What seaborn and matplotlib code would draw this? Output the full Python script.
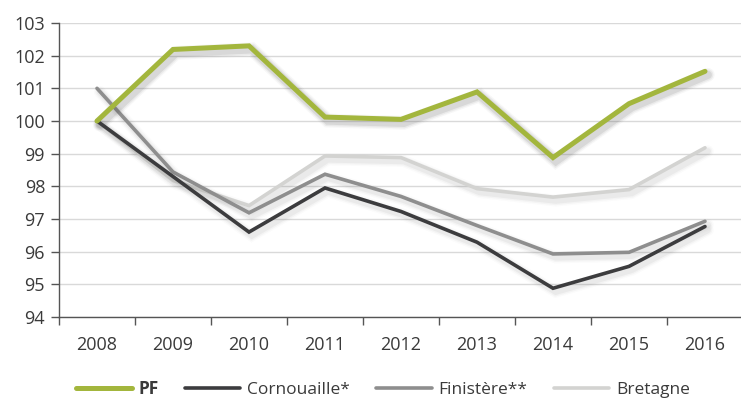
import matplotlib
matplotlib.use("Agg")
import matplotlib.pyplot as plt
import matplotlib.patheffects as pe
from matplotlib.ticker import FixedLocator, NullFormatter
import seaborn as sns
import pandas as pd

years = ["2008", "2009", "2010", "2011", "2012", "2013", "2014", "2015", "2016"]
pf = [100.0, 102.19, 102.30, 100.12, 100.05, 100.89, 98.88, 100.53, 101.52]
cornouaille = [100.0, 98.30, 96.60, 97.95, 97.23, 96.29, 94.88, 95.55, 96.77]
finistere = [101.0, 98.44, 97.19, 98.37, 97.69, 96.80, 95.93, 95.98, 96.93]
bretagne = [100.0, 98.18, 97.41, 98.93, 98.88, 97.93, 97.67, 97.90, 99.18]

sns.set_theme(style="white")
plt.rcParams["font.family"] = ["Open Sans", "DejaVu Sans"]

fig = plt.figure(figsize=(7.41, 3.98), dpi=100)
ax = fig.add_axes([59 / 741, (398 - 317) / 398, 684 / 741, (317 - 23) / 398])

x = list(range(len(years)))
series = [
    ("Bretagne", bretagne, "#d3d3d1", 2.6, 1),
    ("Finistère**", finistere, "#8e8e8e", 2.6, 2),
    ("Cornouaille*", cornouaille, "#3c3c3e", 2.6, 3),
    ("PF", pf, "#a3b63d", 3.6, 4),
]


def soft_shadow(lw, strength):
    # a few widening, faint copies offset down-right give a blurred drop shadow
    effects = []
    for extra, a in ((1.0, 0.10), (3.0, 0.07), (5.0, 0.04)):
        effects.append(pe.SimpleLineShadow(offset=(2.0, -2.5), shadow_color="#444444",
                                           alpha=a * strength, rho=1.0,
                                           linewidth=lw * 1.389 + extra))
    effects.append(pe.Normal())
    return effects


handles = {}
for name, vals, color, lw, z in series:
    df = pd.DataFrame({"x": x, "v": vals})
    sns.lineplot(data=df, x="x", y="v", ax=ax, color=color, linewidth=lw,
                 zorder=z, legend=False)
    line = ax.lines[-1]
    line.set_solid_joinstyle("miter")
    line.set_solid_capstyle("round")
    line.set_path_effects(soft_shadow(lw, 1.0 if name == "PF" else 0.5))
    handles[name] = line

ax.set_xlim(-0.5, len(years) - 0.5)
ax.set_ylim(94, 103)
ax.set_yticks(range(94, 104))
ax.set_xticks(x)
ax.set_xticklabels(years)
ax.xaxis.set_minor_locator(FixedLocator([i - 0.5 for i in range(len(years) + 1)]))
ax.xaxis.set_minor_formatter(NullFormatter())
ax.set_xlabel("")
ax.set_ylabel("")

ax.grid(axis="y", color="#d9d9d9", linewidth=1.0, zorder=0)
ax.set_axisbelow(True)
for side in ("top", "right"):
    ax.spines[side].set_visible(False)
for side in ("left", "bottom"):
    ax.spines[side].set_color("#555555")
    ax.spines[side].set_linewidth(1.0)

ax.tick_params(axis="y", which="major", left=True, length=6, width=1, color="#555555",
               labelsize=13, labelcolor="#3a3a3a", pad=4)
ax.tick_params(axis="x", which="major", bottom=False, length=0, labelsize=13,
               labelcolor="#3a3a3a", pad=14)
ax.tick_params(axis="x", which="minor", bottom=True, length=6, width=1, color="#555555")

order = ["PF", "Cornouaille*", "Finistère**", "Bretagne"]
leg = fig.legend([handles[n] for n in order], order, loc="lower center",
                 bbox_to_anchor=(0.517, -0.04), ncol=4, frameon=False,
                 fontsize=12.5, handlelength=3.2, handletextpad=0.4,
                 columnspacing=1.5)
for t in leg.get_texts():
    t.set_color("#3a3a3a")
    if t.get_text() == "PF":
        t.set_fontweight("bold")
for lh in leg.get_lines():
    lh.set_path_effects([])

fig.savefig("out.png", dpi=100)
